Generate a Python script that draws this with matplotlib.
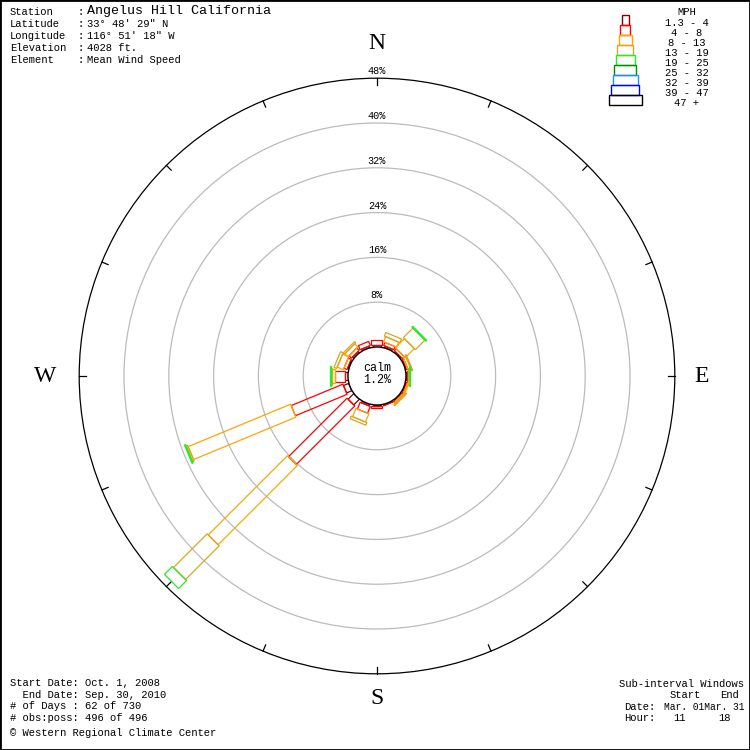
import numpy as np
import matplotlib
matplotlib.use("Agg")
import matplotlib.pyplot as plt
from matplotlib.patches import Polygon, Circle, Rectangle

# ---------------- data ----------------
directions = ["N", "NNE", "NE", "ENE", "E", "ESE", "SE", "SSE",
              "S", "SSW", "SW", "WSW", "W", "WNW", "NW", "NNW"]
bearings = [0, 22.5, 45, 67.5, 90, 112.5, 135, 157.5,
            180, 202.5, 225, 247.5, 270, 292.5, 315, 337.5]

speed_labels = ["1.3 - 4", "4 - 8", "8 - 13", "13 - 19", "19 - 25",
                "25 - 32", "32 - 39", "39 - 47", "47 +"]
speed_colors = ["#800000", "#FF0000", "#FFA500", "#DAA520", "#22EE22",
                "#008800", "#1E90FF", "#0000EE", "#000000"]

# percent frequency per direction for each speed class
pct_1_4   = [0.3, 0.3, 0.2, 0.1, 0.1, 0.1, 0.1, 0.1, 0.2, 0.3, 1.4, 1.0, 0.5, 0.2, 0.3, 0.3]
pct_4_8   = [0.9, 0.6, 0.5, 0.3, 0.2, 0.3, 0.3, 0.1, 0.3, 1.3, 14.8, 10.0, 1.8, 0.6, 0.6, 0.8]
pct_8_13  = [0.0, 1.0, 2.3, 0.5, 0.1, 0.2, 0.2, 0.0, 0.0, 1.6, 20.0, 19.8, 0.5, 1.2, 0.8, 0.0]
pct_13_19 = [0.0, 0.7, 2.4, 0.2, 0.1, 0.0, 0.2, 0.0, 0.0, 0.5, 8.5, 0.3, 0.2, 0.5, 0.3, 0.0]
pct_19_25 = [0.0, 0.0, 0.2, 0.0, 0.2, 0.0, 0.0, 0.0, 0.0, 0.0, 2.0, 0.2, 0.2, 0.0, 0.0, 0.0]
pct_25_32 = [0.0] * 16
pct_32_39 = [0.0] * 16
pct_39_47 = [0.0] * 16
pct_47_up = [0.0] * 16

calm_pct = 1.2
ring_values = [8, 16, 24, 32, 40, 48]

station_info = [("Station", "Angelus Hill California"),
                ("Latitude", "33° 48' 29\" N"),
                ("Longitude", "116° 51' 18\" W"),
                ("Elevation", "4028 ft."),
                ("Element", "Mean Wind Speed")]
period_lines = ["Start Date: Oct. 1, 2008",
                "  End Date: Sep. 30, 2010",
                "# of Days : 62 of 730",
                "# obs:poss: 496 of 496"]

# ---------------- layout ----------------
W_PX, H_PX = 750, 750
CX, CY = 377, 376          # centre in pixels (from top-left)
PX = 5.6                   # pixels per percent
R0 = 29 / PX               # calm circle radius in data units
seg_w_px = [8, 11, 14, 17, 20, 23, 26, 29, 33]

mono = "Liberation Mono"
serif = "Liberation Serif"

fig = plt.figure(figsize=(7.5, 7.5), dpi=100)
ax = fig.add_axes([0, 0, 1, 1])
ax.set_xlim(-CX / PX, (W_PX - CX) / PX)
ax.set_ylim((CY - H_PX) / PX, CY / PX)
ax.axis("off")

def ftext(x, y, s, **kw):
    fig.text(x / W_PX, 1 - y / H_PX, s, **kw)

# rings
for v in ring_values:
    col = "black" if v == ring_values[-1] else "#BBBBBB"
    ax.add_patch(Circle((0, 0), R0 + v, fill=False, ec=col, lw=0.9, zorder=1))
    ax.text(0, R0 + v + 0.35, f"{v}%", ha="center", va="bottom",
            fontsize=7.3, family=mono, zorder=5)

# ticks on outer ring
R_out = R0 + ring_values[-1]
for b in bearings:
    t = np.deg2rad(b)
    ax.plot([R_out * np.sin(t), (R_out - 1.2) * np.sin(t)],
            [R_out * np.cos(t), (R_out - 1.2) * np.cos(t)],
            color="black", lw=0.9, zorder=2)

# petals
classes = [pct_1_4, pct_4_8, pct_8_13, pct_13_19, pct_19_25,
           pct_25_32, pct_32_39, pct_39_47, pct_47_up]
for i, b in enumerate(bearings):
    t = np.deg2rad(b)
    u = np.array([np.sin(t), np.cos(t)])
    vperp = np.array([np.cos(t), -np.sin(t)])
    r = R0
    for k, cls in enumerate(classes):
        val = cls[i]
        if val <= 0:
            continue
        r1 = r + val
        hw = seg_w_px[k] / PX / 2
        pts = [r * u + hw * vperp, r1 * u + hw * vperp,
               r1 * u - hw * vperp, r * u - hw * vperp]
        ax.add_patch(Polygon(pts, closed=True, fill=False,
                             ec=speed_colors[k], lw=0.9, zorder=3))
        r = r1

# calm circle
ax.add_patch(Circle((0, 0), R0, fc="white", ec="black", lw=1.0, zorder=4))
ax.text(0, 1.45, "calm", ha="center", va="center", fontsize=8.5, family=mono, zorder=6)
ax.text(0, -0.75, f"{calm_pct}%", ha="center", va="center", fontsize=8.5, family=mono, zorder=6)

# compass letters
letter_r = {"N": 59.3, "E": 58.0, "S": 57.6, "W": 59.2}
for lab, b in zip(["N", "E", "S", "W"], [0, 90, 180, 270]):
    t = np.deg2rad(b)
    rr = letter_r[lab]
    ax.text(rr * np.sin(t), rr * np.cos(t), lab,
            ha="center", va="center", fontsize=17, family=serif)

# header
fs = 7.6
for j, (lab, val) in enumerate(station_info):
    y = 12 + 12 * j
    ftext(10, y, lab, fontsize=fs, family=mono, va="center")
    ftext(78, y, ":", fontsize=fs, family=mono, va="center")
    if j == 0:
        ftext(87, y - 1, val, fontsize=9.6, family=mono, va="center")
    else:
        ftext(87, y, val, fontsize=fs, family=mono, va="center")

# legend
ftext(687, 12, "MPH", fontsize=fs, family=mono, ha="center", va="center")
for k, lab in enumerate(speed_labels):
    top = 15 + 10 * k
    w = seg_w_px[k] - 1 if k < 8 else 33
    fig.patches.append(Rectangle(((625 - w / 2) / W_PX, 1 - (top + 10) / H_PX),
                                 w / W_PX, 10 / H_PX, transform=fig.transFigure,
                                 fill=False, ec=speed_colors[k], lw=1.0))
    ftext(687, top + 8, lab, fontsize=fs, family=mono, ha="center", va="center")

# bottom left
for j, s in enumerate(period_lines):
    ftext(10, 683 + 11.7 * j, s, fontsize=fs, family=mono, va="center")
ftext(10, 733, "© Western Regional Climate Center", fontsize=fs, family=mono, va="center")

# bottom right
ftext(619, 684, "Sub-interval Windows", fontsize=fs, family=mono, va="center")
ftext(670, 695, "Start", fontsize=fs, family=mono, va="center")
ftext(720, 695, "End", fontsize=fs, family=mono, va="center")
ftext(624, 707, "Date:", fontsize=fs, family=mono, va="center")
ftext(664, 707, "Mar. 01Mar. 31", fontsize=6.9, family=mono, va="center")
ftext(624, 718, "Hour:", fontsize=fs, family=mono, va="center")
ftext(673, 718, "11", fontsize=fs, family=mono, va="center")
ftext(718, 718, "18", fontsize=fs, family=mono, va="center")

# frame
fig.patches.append(Rectangle((0, 0), 1, 1, transform=fig.transFigure,
                             fill=False, ec="black", lw=2.0))

fig.savefig("out.png", dpi=100)
